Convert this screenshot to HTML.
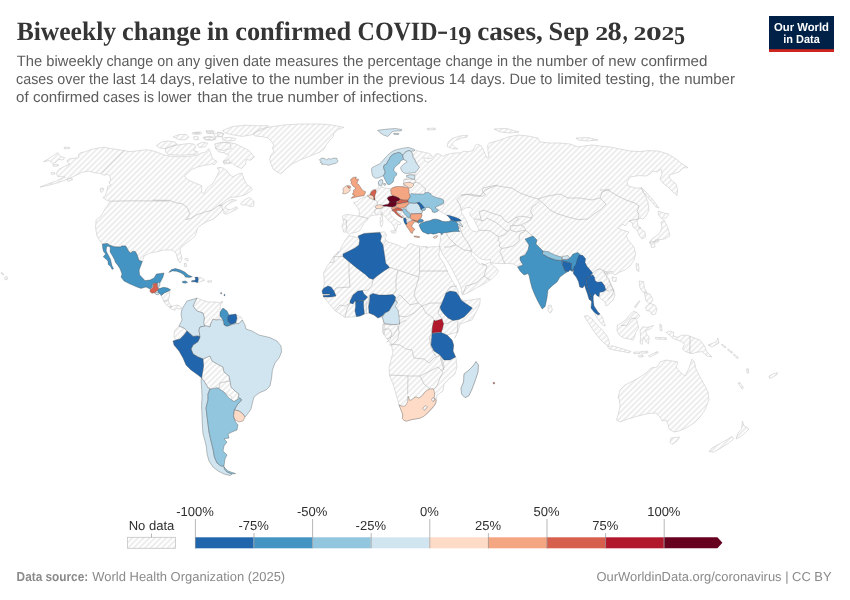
<!DOCTYPE html>
<html lang="en"><head><meta charset="utf-8"><title>Biweekly change in confirmed COVID-19 cases</title>
<style>
html,body{margin:0;padding:0;background:#fff;}
body{width:850px;height:600px;overflow:hidden;position:relative;font-family:"Liberation Sans",sans-serif;}
svg{position:absolute;left:0;top:0;}
text{font-family:"Liberation Sans",sans-serif;text-rendering:geometricPrecision;}
.ttl{font-family:"Liberation Serif",serif;font-weight:bold;font-size:26.5px;fill:#353535;}
.sub{font-size:15px;fill:#5c5c5c;}
.lg{font-size:13px;fill:#2f2f2f;}
.ft{font-size:13px;fill:#8a8a8a;}
.logo{font-size:11.6px;font-weight:bold;fill:#fff;}
</style></head><body>
<div id="chart" style="position:absolute;left:0;top:0;width:850px;height:600px;will-change:transform;">
<svg width="850" height="600" viewBox="0 0 850 600">
<defs>
<pattern id="hatch" patternUnits="userSpaceOnUse" width="4" height="4" patternTransform="translate(-1.2 0) rotate(-45 2 2)"><path d="M -1,2 l 6,0" stroke="#d0d0d0" stroke-width="0.78"/></pattern>
</defs>
<rect width="850" height="600" fill="#fff"/>
<text x="16.67" y="40.0" class="ttl" style="font-size:26.5px" textLength="99.38" lengthAdjust="spacingAndGlyphs">Biweekly</text>
<text x="122.10" y="40.0" class="ttl" style="font-size:26.5px" textLength="78.95" lengthAdjust="spacingAndGlyphs">change</text>
<text x="207.00" y="40.0" class="ttl" style="font-size:26.5px" textLength="21.90" lengthAdjust="spacingAndGlyphs">in</text>
<text x="235.20" y="40.0" class="ttl" style="font-size:26.5px" textLength="115.90" lengthAdjust="spacingAndGlyphs">confirmed</text>
<text x="357.60" y="40.0" class="ttl" style="font-size:26.5px" textLength="79.90" lengthAdjust="spacingAndGlyphs">COVID</text>
<text x="437.10" y="39.0" class="ttl" style="font-size:26.5px" textLength="11.25" lengthAdjust="spacingAndGlyphs">-</text>
<text x="448.50" y="40.0" class="ttl" style="font-size:19.7px" textLength="10.00" lengthAdjust="spacingAndGlyphs">1</text>
<text x="458.15" y="43.7" class="ttl" style="font-size:25.6px" textLength="13.15" lengthAdjust="spacingAndGlyphs">9</text>
<text x="477.15" y="40.0" class="ttl" style="font-size:26.5px" textLength="65.65" lengthAdjust="spacingAndGlyphs">cases,</text>
<text x="548.60" y="40.0" class="ttl" style="font-size:26.5px" textLength="40.90" lengthAdjust="spacingAndGlyphs">Sep</text>
<text x="595.20" y="40.0" class="ttl" style="font-size:19.7px" textLength="13.00" lengthAdjust="spacingAndGlyphs">2</text>
<text x="607.40" y="40.0" class="ttl" style="font-size:26.5px" textLength="14.20" lengthAdjust="spacingAndGlyphs">8</text>
<text x="622.80" y="40.0" class="ttl" style="font-size:26.5px" textLength="4.95" lengthAdjust="spacingAndGlyphs">,</text>
<text x="633.50" y="40.0" class="ttl" style="font-size:19.7px" textLength="12.85" lengthAdjust="spacingAndGlyphs">2</text>
<text x="645.95" y="40.0" class="ttl" style="font-size:19.7px" textLength="15.75" lengthAdjust="spacingAndGlyphs">0</text>
<text x="661.55" y="40.0" class="ttl" style="font-size:19.7px" textLength="12.80" lengthAdjust="spacingAndGlyphs">2</text>
<text x="673.90" y="43.7" class="ttl" style="font-size:25.6px" textLength="11.05" lengthAdjust="spacingAndGlyphs">5</text>
<text x="16.86" y="65.75" class="sub" textLength="86.04" lengthAdjust="spacingAndGlyphs">The biweekly</text>
<text x="106.4" y="65.75" class="sub" textLength="93.7" lengthAdjust="spacingAndGlyphs">change on any</text>
<text x="204.4" y="65.75" class="sub" textLength="134.2" lengthAdjust="spacingAndGlyphs">given date measures</text>
<text x="342.95" y="65.75" class="sub" textLength="98.25" lengthAdjust="spacingAndGlyphs">the percentage</text>
<text x="445.4" y="65.75" class="sub" textLength="86.9" lengthAdjust="spacingAndGlyphs">change in the</text>
<text x="536.6" y="65.75" class="sub" textLength="99.3" lengthAdjust="spacingAndGlyphs">number of new</text>
<text x="640.8" y="65.75" class="sub" textLength="66.7" lengthAdjust="spacingAndGlyphs">confirmed</text>
<text x="16.1" y="83.7" class="sub" textLength="92.8" lengthAdjust="spacingAndGlyphs">cases over the</text>
<text x="112.75" y="83.7" class="sub" textLength="82.5" lengthAdjust="spacingAndGlyphs">last 14 days,</text>
<text x="198.2" y="83.7" class="sub" textLength="92.15" lengthAdjust="spacingAndGlyphs">relative to the</text>
<text x="294.0" y="83.7" class="sub" textLength="89.7" lengthAdjust="spacingAndGlyphs">number in the</text>
<text x="388.4" y="83.7" class="sub" textLength="77.05" lengthAdjust="spacingAndGlyphs">previous 14</text>
<text x="470.8" y="83.7" class="sub" textLength="81.5" lengthAdjust="spacingAndGlyphs">days. Due to</text>
<text x="557.2" y="83.7" class="sub" textLength="97.55" lengthAdjust="spacingAndGlyphs">limited testing,</text>
<text x="659.15" y="83.7" class="sub" textLength="75.8" lengthAdjust="spacingAndGlyphs">the number</text>
<text x="16.1" y="101.6" class="sub" textLength="83.1" lengthAdjust="spacingAndGlyphs">of confirmed</text>
<text x="103.1" y="101.6" class="sub" textLength="88.35" lengthAdjust="spacingAndGlyphs">cases is lower</text>
<text x="197.55" y="101.6" class="sub" textLength="86.15" lengthAdjust="spacingAndGlyphs">than the true</text>
<text x="287.6" y="101.6" class="sub" textLength="140.15" lengthAdjust="spacingAndGlyphs">number of infections.</text>
<g>
<rect x="769" y="16" width="65" height="36" fill="#002147"/>
<rect x="769" y="49.2" width="65" height="2.8" fill="#ce261e"/>
<text x="801.5" y="30.6" text-anchor="middle" class="logo" textLength="55" lengthAdjust="spacingAndGlyphs">Our World</text>
<text x="801.5" y="42.6" text-anchor="middle" class="logo" textLength="36.5" lengthAdjust="spacingAndGlyphs">in Data</text>
</g>
<g id="map">
<path d="M40,187.06 47.65,184.12 55.88,181.18 60.59,178.82 65.29,177.06 57.65,176.47 56.47,172.94 58.82,169.41 64.12,166.47 70,164.12 67.65,162.35 67.06,160.59 70,158.82 74.71,158.24 78.82,157.65 78.24,154.71 80.59,152.71 85.29,151.76 91.18,149.41 98.24,148 104.12,147.29 110,148.47 117.06,149.41 124.12,150.59 130,151.76 130,151.53 137.06,150.94 145.29,149.76 151.18,150.35 157.06,152.12 164.12,155.06 171.18,156.24 179.41,156.82 188.82,156.24 195.88,155.65 200.59,153.29 205.29,152.12 208.82,148.59 210,151.53 211.18,154.47 212.35,158.59 217.06,161.53 214.71,164.47 211.18,163.88 207.65,165.06 205.29,165.06 198.24,166.82 191.18,169.76 184.71,175.65 185.29,177.41 188.82,180.35 195.88,183.29 201.76,185.65 201.6,192 203.6,194 207,188 212.35,183.88 214.71,180.35 217.06,175.65 219.41,170.35 217.06,168 220,167.4 223,168 227,171 230,175 233,177 238,174 242,173 244,179 247,185 250.59,186.76 252.35,189.71 249.41,192.06 244.71,195 237.65,196.76 230.59,197.35 225.88,200.29 221.18,203.82 218.82,205.59 223.53,203.82 228.24,200.88 231.76,199.35 236.47,200.29 232.35,201.71 228.82,203.82 225.29,206.41 226.47,209.12 230.59,209.71 236.47,206.76 237.88,208.53 232,211.59 226.12,214.41 223.53,213 224.47,211.12 222.94,210.29 218.82,214.41 213.53,219.12 207.06,221.47 201.18,225 197.65,227.94 196.47,232.06 195.29,235.59 191.76,239.12 187.06,242.65 182.35,246.18 180,249.12 180.59,253.24 181.18,255 182,259 180,263 178,260 176,253 172,250 164,250 156,252 150,253 144,256 142.35,261.47 138.82,260.29 138.24,258.24 137.06,254.71 135.29,251.47 132.94,251.18 130.59,252.94 128.82,251.47 127.06,248.24 125.59,245.88 121.47,245.88 120.59,247.06 114.12,246.76 109.41,245 107.65,243.53 102.35,244.12 100,241 97,236 95.6,228 96,220 101,216 105,209 108,205 110,201.18 106.47,200 102.94,197.65 105.29,195.29 107.06,190.59 107.65,186.47 111.18,184.71 108.82,182.94 110.59,180 110,176.47 107.65,174.12 104.12,175.29 100.59,173.53 95.88,172.94 88.82,171.18 81.76,172.35 77.06,174.71 70,178.24 64.12,180.59 57.06,182.94 48.82,185.29ZM161.18,295.59 164.71,292.65 170,290.29 169.41,296.18 168.24,300.88 170,304.41 171.18,306.76 174.12,305.59 177.65,305 180.59,306.76 181.76,307.94 180,309.12 176.47,308.53 174.71,310.29 171.76,309.12 168.82,306.76 165.88,304.41 163.53,300.88 162.94,299.12ZM253,134 260,129 270,127 284,125 300,124 320,124 332,125 344,127.4 338,129.4 334,133 333,137 329,141 326,145 324,149 320,152 310,156 300,160 292,164 286,169 282,173 280,173.4 277,172 273,169 271,164 269.6,159 271,155 274,152 272.4,148 274,145 271,141 268,138 262,136.6 255,136ZM156.47,145.65 161.18,142.12 167.65,140.94 175.29,142.12 177.06,144.47 171.18,146.82 165.29,148.59 159.41,148ZM165.29,148.82 171.18,146 179.41,144.71 188.82,143.53 194.12,144.12 195.88,146.82 193.53,150.35 198.24,152.12 195.88,154.24 188.82,154.71 181.76,155.29 174.71,155.06 167.65,154.24 165.53,151.53ZM172.94,136.82 179.41,134.47 186.47,134.47 188.82,137.41 185.29,139.76 179.41,139.76ZM193.53,136.82 198,136.59 198.47,139.53 194.12,139.88ZM192.35,132.71 199.18,132.35 199.41,133.76 192.82,134.12ZM202.94,137.41 210,136.24 214.71,138.59 212.35,140.35 205.29,139.76ZM206.47,131.53 212.35,130.94 213.53,133.29 207.65,133.29ZM197.06,144.47 202.94,142.12 207.65,143.29 205.29,146.82 199.41,147.41ZM214.71,143.88 222.94,142.12 230,143.29 231.18,148.59 222.94,150.35 215.88,148.59ZM213.53,134.47 219.41,132.12 224.12,133.88 220.59,136.82 215.88,136.82ZM222.94,160.94 228.82,159.76 230.59,163.29 224.12,164.12ZM215.06,147.94 219.18,143 227.41,142.18 235.65,143.82 242.24,147.12 248.82,150.41 254.59,157 250.47,160.29 246.35,159.47 245.53,164.41 241.41,168.53 235.65,166.06 232.35,162.76 227.41,162.76 223.29,161.94 225.77,158.65 229.06,155.35 224.12,152.88 219.18,152.06ZM222.47,130.65 232.35,126.53 245.53,125.21 255.41,125.71 268.59,125.71 265.29,129 257.06,131.47 252.12,134.76 242.24,136.41 232.35,134.76 225.77,133.12ZM222.47,138.06 229.06,137.24 235.65,138.39 234.82,140.53 227.41,141.02 222.8,140.04ZM217.53,132.29 223.29,133.45 222.47,137.24 217.86,136.08ZM206,130.65 214.24,130.98 213.91,133.12 206.82,133.12ZM204.35,137.24 215.88,136.91 215.55,139.71 205.18,139.71ZM194.47,132.29 201.06,131.96 201.39,133.94 194.8,134.11ZM240.59,203.82 244.71,199.71 249.41,197.35 254.12,201.47 253.53,206.18 250.59,206.76 247.06,205 242.35,205ZM43.53,161.76 47.65,159.41 53.53,155.29 57.65,152.71 60.59,156.47 64.71,157.65 62.94,160 58.24,159.41 55.88,162.35 52.35,163.53 49.41,160.59ZM64.12,147.29 69.41,147.06 69.53,148.47 64.35,148.71ZM52.94,164.71 58.24,164.47 58.24,166.12 53.18,166.12ZM51.18,172.71 54.71,172.47 54.94,174.12 51.41,174.35ZM67.06,179.41 71.76,177.88 72.59,179.76 67.88,181.41ZM100.35,188.47 103.18,188 103.65,190.59 101.29,192.47 100.24,191.18ZM197.88,277.35 201.76,277.94 204.71,280.29 201.18,281.47 198.24,282.29ZM207.65,280.88 211.53,280.65 211.76,282.06 207.88,282.29ZM184.12,263.47 186.12,263.24 186.59,266.53 184.71,266.76ZM184.71,258.76 188,258.53 188.24,260.65 186.82,260.88ZM221.18,301.59 222.59,301.35 222.71,302.76 221.29,302.88ZM197,298 202,300 208,302 216,302 221,303 220,308 223,311 221,315 219,319 216,320 213,319 211,323 210,327 207,326 205,326 203.6,323 204.4,318 203,313 197,311 193,306 195,302ZM179,326 184,328 187,331 184,335 180,339 176,340 174,337 174.4,331ZM203,359 210,356 212,361 219,365 223,367 224,372 229,376 230,381 224,382 220,383 219,388 214,387 210,389 207,386 204,381 201.6,378 202.4,373 203.6,366ZM220,383 224,382 230,381 231,387 235,391 239,394 238,398 236,401.6 231,401 232,397 227,394 221,391 219,388ZM236.4,315 241,317 242.4,320 239,323.6 236,323 237,318ZM380.59,232.06 372.94,232.65 367.06,233.24 361.76,235 358.82,237.94 354.12,236.76 348.82,235.59 345.29,240.29 341.76,246.18 340,250.88 336.47,255 339,251 334,256 330,262 326,268 323.6,273 324,279 324.4,284 322.4,290 323.6,297 327,301 331,306 335,310.6 340,314 345,317.4 351,317 356.4,316.6 360,316 364.4,314 369,313 374,315 378,318 382.4,317 384,323 385,329 384,335 383,324 382.4,332 387,339 391,344 393,352 391,360 389,368 389.6,376 393,384 396,394 399,405 402,412 403,419 406,421 412,419.6 420,418 427,414 432,409 435.6,404 436.4,400 437,395 443,391 444,384 449,379 455,374 457,367 456,358 455.6,357 453,351 453.6,345 452,340 447,335 458,332 460,324 472,320 479.71,305 480.29,298.53 472.06,299.71 465,300.88 460.29,299.12 459.12,296.76 458.53,294.41 457.94,290.29 454.41,284.41 450.29,277.35 446.76,270.29 443.82,263.24 439.71,257.35 438.88,254.41 440.06,248.18 439.35,245.82 436.76,246.76 432.06,246.76 425,247.94 427.35,246.47 420.29,246.47 415.59,245.29 410.88,243.53 407.35,245.29 406.18,248.24 402.65,247.65 397.94,245.29 393.24,243.53 389.12,242.35 386.18,240.59 385,237.65 386.76,235.29 384.41,231.76 380.29,232.35ZM476,361.6 478.4,365 478,372 475,381 472,389 469,395.6 465,397.6 461.6,394 461,388 463.6,382 464,374 469,370 473,366ZM348.82,234.41 346.47,232.06 343.53,232.06 342.94,229.12 341.76,226.18 343.53,222.65 342.94,219.12 342.35,216.18 346.47,214.41 351.76,215 358.82,216.18 359.41,211.47 357.65,207.35 355.29,205 353.53,202.65 357.65,201.47 359.41,199.12 363.53,197.35 368.24,196.18 370.59,195 370.06,193.24 370.88,191.47 372.65,189.71 375.59,189.35 377.94,188.53 378.76,186.76 378.29,181.47 380.29,180.29 382.06,179.71 382.65,182.06 381.82,185 382.06,187.35 384.41,187.94 387.94,188.53 390.88,188.53 396.18,186.76 402.06,187.35 403.82,185 403.82,183.24 403.53,180.59 405.29,178.82 407.06,179.41 406.47,176.47 406.47,175.29 410.59,174.47 414.71,174.94 416.47,173.53 414.53,172.65 416.18,170.88 419.12,167.35 416.76,163.24 415,159.71 413.24,155.59 412.06,152.06 414.41,149.71 418.82,151.18 424.71,152.35 429.41,153.53 431.76,155.29 432.35,157.65 430,158.82 426.47,158.24 423.53,157.65 424.71,160.59 427.65,162.35 430.59,160.59 432.94,159.41 434.12,156.47 436.47,153.53 438.82,154.12 441.76,155.29 442.94,156.47 445.88,154.71 450.59,153.53 455.29,152.94 460,152.94 464.12,151.18 468.24,151.76 472.94,150.59 475.29,145.29 477.65,144.12 481.18,145.88 482.94,149.06 484.94,153.53 487.06,158 488.94,157.06 488,151.18 487.65,145.29 489.41,142.94 494.12,141.76 500,140 508,137 518,135 528,136 538,138 540,142 550,143 560,143 570,144 578,147 584,146 592,145 600,146 610,147 620,149 630,151 640,151.6 648,150.6 658,151 668,154 676,159 681,163 688,167.6 683,168 679,172 674,173.6 669,175 670,179 676,184 677.6,190 677,195.6 673,192 668,187 663,183 660,179 662,174 661,169 657,172 653,171 650,174 646,176 639,175.6 630,177 627,182 628,186 636,188 641,188 645,195 648,202 649,210 646,216 643,219 640,218 637,221 638,225 640,228 645,232 645.6,237 642,239 639,235 637,230 633,227 632.4,223 629,221 625,226 623,224 618,228 622,230 629,232 626,236 629,241 634,247 635.6,254 634,260 630,266 625,270 619,272.4 615,275 612,273 608,274 606,277 610,282 613,288 615,295 613,300 609,304 606,306 605,302 601,299 599,297 595,285 585,270 572,262 545,270 525,264 517.65,266.47 513.42,263.93 507.77,263.37 502.12,263.65 496.47,263.37 490.83,262.94 490.12,259.41 486.59,260.12 482.35,259.41 477.41,256.59 473.18,252.35 470.35,250.94 471.77,255.18 475.3,258.71 478.12,262.94 481.65,265.06 485.18,264.36 488.71,262.94 489.7,262.24 493.65,265.77 498.59,270.71 496.47,274.24 492.24,278.47 487.3,282 482.35,284.83 476.71,287.65 471.06,291.18 465.41,294 462.06,295 461.47,289.12 459.12,283.24 455.59,276.18 452.06,269.12 446.76,260.29 442.65,254.41 440.06,248.18 439.35,245.82 440.29,240.88 440.88,235 440.59,232.06 434.71,229.71 422.94,223.82 420.59,220.88 415.88,220.88 408.82,220.29 405.29,221.47 403.29,218.18 401.76,217.94 400.82,216.76 397.65,215 394.71,212.65 392.94,211.12 391.76,209.94 392,210.29 389.41,212.06 390.59,215 394.12,218.53 398.24,221.47 401.18,223.24 400,225 397.65,224.41 397.06,227.94 395.29,230.29 394.35,227.35 392.35,223.82 388.82,220.88 385.88,217.35 382.94,214.41 379.41,214.41 377.65,215 375.29,215 370.59,215.82 368.24,218.53 366.47,220.88 363.53,223.82 361.76,227.35 359.41,230.88 355.29,232.65 351.18,233.24ZM594.82,313.35 599.76,314.06 602.59,317.59 604,322.53 605.41,326.06 603.29,325.35 600.47,322.53 597.65,319 595.53,315.47ZM380.24,217.35 382.35,216.53 382.94,222.65 381.76,226.76 380.24,225.59ZM380.94,212.29 382.12,211.82 382.35,215.82 381.18,215.82ZM390.59,231.12 396.47,230.29 395.29,233.24 391.76,232.65ZM447.06,146.47 448.24,141.76 452.94,138.24 460,135.88 467.65,135.29 467.06,137.06 461.18,138.24 455.29,140.59 451.76,144.12 455.29,147.65 457.65,148.82 452.94,148.82ZM494,129 506,128.4 519,132 510,133 500,132ZM576,138 588,137.6 598,140 588,141 578,140ZM427,128.5 435,128 435.5,129.6 427.5,130ZM641,187 646,192 653,200 659,208 656,207 650,200 644,193ZM658,211 664,213 669,214 666,218 662,219 659,216ZM664,220 668,228 670,236 664,239 658,240 652,243 649,243 653,238 659,234 662,228 661,222ZM650,241 654.4,241.6 655,247 651.6,247.6ZM655,240 659,239.6 658.4,242 655.6,242.4ZM636,263.6 638.6,264 639,271.6 636.6,270ZM612,277 616.4,277.6 616,281.6 612.4,281ZM639,281 643.6,281.6 644.4,288 647,293 643,292 640,288ZM644.4,293 650,294 653,300 650,304 646,301ZM645.65,307 649.88,303.47 654.82,304.88 656.94,309.12 655.53,314.06 652,314.76 649.88,311.24 646.35,310.53ZM634.35,307 639.29,300.65 640,301.35 635.34,307.71ZM548,305.6 551,305 552.4,310 550.4,313.2 548,311ZM584.24,316.18 587.76,315.47 592,319 596.94,324.65 602.59,330.29 607.53,336.65 609.65,343 608.24,345.82 604.71,343.71 599.76,338.76 594.12,331.71 589.18,323.94ZM607.53,346.53 612.47,345.82 619.53,347.94 626.59,350.06 630.82,351.47 629.41,352.88 622.35,351.47 615.29,350.34 608.94,348.65ZM633.65,352.18 639.29,351.89 639.58,353.45 633.93,353.73ZM640.71,351.47 647.77,351.19 648.05,352.88 640.99,353.16ZM638.59,355.28 642.82,355 643.11,356.84 638.87,357.12ZM648.47,355.71 657.65,351.47 658.35,352.6 649.88,357.12ZM617.41,325.35 620.94,323.24 626.59,319 629.41,314.76 633.65,311.24 637.18,312.65 640,316.18 636.47,319.71 637.88,323.94 638.59,328.18 635.76,332.41 634.35,337.35 632.94,340.18 628.71,338.76 623.76,338.06 619.53,335.24 616.99,331ZM640,330.29 642.82,326.76 647.77,327.47 653.41,325.35 650.59,328.88 645.65,330.29 646.35,333.82 649.18,337.35 648.47,343.71 645.65,341.59 644.24,337.35 642.82,340.18 642.12,344.41 640,343 640.71,336.65ZM659.77,323.94 661.6,325.35 661.88,331 660.19,330.29ZM655.53,337.35 666.12,337.78 666.4,339.47 655.81,339.05ZM666.12,332.41 670.35,331 673.88,332.41 673.18,335.94 677.41,337.35 681.65,335.24 687.29,335.24 692.94,337.35 700,340.18 704,345 707,352 712,357 707,356 702,351.6 696,352.4 692.94,353.59 689.41,352.88 685.18,351.47 682.35,348.65 684.47,344.41 681.65,341.59 677.41,340.18 673.88,338.76 671.06,336.65ZM708,345 716,342 718,338 719,343 712,347ZM722,344 726,347 725.2,348 721.6,345.2ZM728,349 733,352.4 732,353.4 727.6,350ZM734,354 738.4,357.6 737.6,358.6 733.6,355.2ZM746.6,369 748.2,368.6 748.6,373 747.2,373.2ZM738,383 740,382.6 743.6,388 742,389.2ZM618,398 620,390 625,385 633,381 640,377 646,373 651,368 657,367 660,362 666,360 672,361 678,362 676,367 680,372 685,376 689,368 692,359 694.4,362 696,369 700,377 704,384 708,392 709,400 708,402 705,410 700,417 694,423 686,428 679,431 674,432 669,429 668,424 666,420 662,421 660,417 656,413 648,413.6 638,416 628,419 620,422 616.4,420 618.4,414 620,406 619,398ZM671,438 679.6,437 677,441 672,444.4 670,442.4ZM742.4,421 744,426 749,429 745,433 740,437 736,439 738,433 741.6,429ZM732,436.4 733.6,439 728,443.6 721,448 714,452 709,451.6 712,448 720,443.6 728,439ZM4.7,277 7,276.5 7.6,279 5.2,280ZM1,272.5 3,273.3 4,275 2,274.4ZM769,376 773,374 777.5,372.5 777,374.5 772,377.5 769.5,378.3Z" fill="url(#hatch)" stroke="#c6c6c6" stroke-width="0.55" stroke-linejoin="round"/>
<path d="M124.12,150.59 101.76,172.94M110,201.18 130,200.82 169,201M152.94,200.06 160,200.29 169.41,200.29 175.29,202.65 182.35,203.82 187.06,207.35 188.82,210.88 189.41,214.41 187.06,218.53 185.88,219.71 190.59,218.53 196.47,215 204.71,212.06 211.76,210.29 215.29,207.94 218.82,205.59 221.76,205.59 222.35,209.12 222.94,210.29M161.18,295.59 164.71,292.65 170,290.29M163.53,300.88 168.24,300.88M168.82,306.76 171.18,307.35 171.53,305.59M343,256.6 334,256.6 334,262 330,262.6M343,256.6 349,261 349,273 350,287 336,288 334,291M373,279.4 372,285 368,290 362.4,290.6M389.6,267.4 398,270 396,279 396,291 393,294.6M398,270 419,277 419.6,271 419.6,247M419.6,271 448,271M419,277 416,287 414,295 418,303 422,306 430,303 438,303 442,303M395.6,300 400,295 404,299 410,305 418,303M399,316 406,317 414,313 422,306M422,306 426,313 432,317 435,321M440,307 438,313 442,319M443.6,324 448,323 453,320.6M446,293 450,287 457,286M335,310.6 340,305 345,306 350,303M345,317.4 347,309 350,303M366,301 366.4,314M368.6,307 368,301 370,295M383,324 392,325 400,323 406,320M387,339 393,336 398,328 400,323M391,344 400,345 406,349 412,350 414,358 424,359 429,363M389.6,375 410,376 420,376 428,372 434,369 438,367M408,376 407.6,394.4M420,376 424,384 430,389M429,363 434,358 440,355M438,367 443,372 440,378 437,386 433.6,389.6M440,355 442,364 444,370M433.21,322.98 431.38,333.06 429.55,337.64 430.46,344.97 433.21,352.29 435.96,356.32M431.38,333.06 434.49,333.97M430.1,339.1 433.76,339.1M457.94,321.15 457.21,333.06 454.65,338M440.54,353.21 442.37,359.62 444.2,366.95 442.37,370.62M383.74,329.39 389.24,328.84 391.99,333.06 390.15,339.47 386.49,342.22M397.48,325.73 399.31,332.14 397.48,339.47 391.99,344.97 389.24,344.97M386.18,240.59 384.41,242.94 382.65,245.29M413.38,183.75 416,182.25 419.75,183.38 422.75,186.75 425.75,189 425,190.88 424.63,192.75 423.5,194.25M402.88,180.38 404.75,179.25 407.75,179.63 410.38,178.88 414.88,179.63 416,181.88 413.75,183M376.75,208.6 375.25,209.5 374.5,211.75 375.63,214M374.35,199.9 377.13,201.25 377.5,203.5 376.75,205.38M395.88,211 401.5,214.75 403,215.88 402.63,217.38M403,215.88 403.75,218.13M405.25,217.75 407.13,217M406.38,219.63 408.63,218.88 410.88,218.88M406.15,221.5 408.25,221.88M358.82,216.18 364.12,217.35 368.24,218.53M343.53,219.35 346.82,220.29 346.12,225 347.06,228.76 345.65,231.82M538,199 546,196.4 560,194 568,198 580,198 592,200 600,198 606,204 600,210 594,214 588,219 578,219.6 568,217 558,214 550,210 544,204 538,199M600,198 602,192 610,189M600,190 608,190 616,195 626,200 635,203 639,206 637,212 639,214 638,219M472,251 468,243 463,236 460,228 459,222M472,251 464,250 456,245 449,247 444,247M460,228 452,230 446,233 449,238 456,245M463,294 466,286 476,283 484,276 490,280M484,276 487,266 481,263M608,274 603.6,272.4M629,221 633,220 638,219M638,228 641,227.6M461,195 470,194 480,196 485,190 496,185.6 504,187 512,188 520,193 528,196 538,199M539.71,200.88 536.18,204.41 532.65,206.76 530.29,211.47 532.65,215 531.47,217.94 525.59,216.76 520.29,216.18 516.18,217.35 512.65,219.71 507.94,222.65 504.41,220.29 501.47,216.18 496.18,214.41 490.29,212.65 484.41,210.29 479.12,211.47 480.29,216.18 481.47,220.88 478.53,219.12 474.41,219.12M461.47,210.29 459.71,204.41 456.76,199.71 460.88,195.59 467.94,194.41 475,196.18 482.65,196.18 485.59,194.41 482.06,191.47 483.24,187.94 491.47,186.18 497.35,185M481.47,220.88 484.41,220.29 486.76,217.94 491.47,220.29 496.18,222.65 500.88,226.18 504.41,229.71 507.94,231.47 510.29,229.71 510.29,225.59 513.82,225.59 512.65,223.82 515,221.47 518.53,219.12 516.18,217.35M479.12,230.29 484.41,230.29 490.29,230.88 495,234.41 498.53,236.76 502.06,235.59 505.59,234.41 507.94,231.47M531.47,217.94 530.29,220.29 525.59,222.65 520.88,225 516.18,225.59 513.82,225.59M520.88,225 524.41,227.35 525.59,230.29 520.88,230.88 516.18,232.06 512.65,230.88 510.29,229.71M525.59,230.29 523.82,232.06 520.29,233.24 519.12,236.76 519.12,240.29 516.18,243.82 512.65,246.18 507.94,247.35 502.06,248.53 499.12,246.18 500.29,242.65 497.94,240.29 498.53,236.76M502.06,248.53 499.71,252.06 501.47,255 503.24,260.29 505,263.59M525.59,230.29 527.94,232.06 532.65,236.18M592.65,272.94 596.18,270 599.71,268.82 603.24,270.59 605.59,274.71 609.12,279.41 610.29,284.12 607.94,286.47 605.82,290M603.24,270.59 607.94,272.35 612.65,271.41M610.29,284.12 612.65,288.82 613.82,291.18 611.47,295.88 607.94,299.41M605.82,290 609.12,291.18 611.47,288.82 613.82,291.18M690.12,336.65 689.84,353.59M620.94,325.35 626.59,325.35 629.41,321.12 631.53,318.29 636.47,318.29" fill="none" stroke="#b0b0b0" stroke-width="0.55" stroke-linejoin="round"/>
<path d="M421.25,213.5 422,215 421.25,217.63 420.13,219.13 422.75,219.65 423.5,221 423.13,222.5 426.13,221.38 429.88,220.63 433.25,219.35 436.25,219.13 439.63,220.1 442.63,221.38 446,221.75 449,221.38 450.88,220.4 449.75,218 448.25,216.5 446.75,215 444.5,213.88 442.25,212.75 440,211.25 438.88,210.5 438.5,210.13 437.75,211.25 434.75,212.38 432.5,212 431.75,209.38 430.25,208.25 428,207.13 426.13,207.5 424.63,207.88 425,210.13 422.38,210.5 422,212.75ZM435.5,207.5 438.5,206.38 441.5,205.25 443.75,203.38 444.13,204.5 443,206.75 441.5,208.25 439.63,209.75 438.5,209 436.25,208.4ZM461.47,210.29 465.59,207.94 470.29,207.35 472.65,209.71 469.71,212.65 470.29,215.59 473.82,219.12 475.59,222.65 477.35,226.18 479.12,230.29 476.76,232.06 472.65,230.88 469.71,228.53 467.94,224.41 466.18,220.29 463.82,216.18 461.47,212.65Z" fill="#fff" stroke="#c6c6c6" stroke-width="0.55"/>
<path d="M102.35,244.12 107.65,243.53 109.41,245 114.12,246.76 120.59,247.06 121.47,245.88 125.59,245.88 127.06,248.24 128.82,251.47 130.59,252.94 132.94,251.18 135.29,251.47 137.06,254.71 138.24,258.24 138.82,260.29 142.35,261.47 141.18,264.71 140,267.65 139.12,270.59 139.71,275 141.6,277 145,280.6 150,280 154,278 156.4,274 164,273 163,277 161,281 159.6,283.6 158,283 157.4,283.6 154,283 152.4,284 152.4,287 150,289 146,287 141,288.4 137,287 130,284 124,281 121,277 122,274 120,268.82 118.24,265.88 115.29,262.35 114.71,260 112.65,256.18 110,251.76 110.29,247.94 109.41,246.47 107.35,246.18 106.47,247.65 106.18,250.59 107.06,252.65 108.82,255.88 110.59,259.41 111.18,262.35 112.06,265.88 113.53,268.53 112.06,269.41 110.59,266.47 108.24,264.41 107.94,260.88 105.88,259.12 103.24,256.76 105.59,254.12 103.53,251.47 102.65,247.65Z" fill="#4393c3" fill-rule="evenodd" stroke="#3a3a3a" stroke-width="0.32" stroke-linejoin="round"/>
<path d="M152.94,283.82 156.47,283.24 157.65,284.41 157.41,287.35 158.82,288.53 157.65,290.29 154.71,292.65 151.76,293.24 150,291.47 150,289.71 152.35,287.94 153.53,286.18Z" fill="#d6604d" fill-rule="evenodd" stroke="#3a3a3a" stroke-width="0.32" stroke-linejoin="round"/>
<path d="M157.65,282.65 159.41,282.06 160,284.41 158.82,287.35 157.65,287.35 157.65,284.41Z" fill="#d1e5f0" fill-rule="evenodd" stroke="#3a3a3a" stroke-width="0.32" stroke-linejoin="round"/>
<path d="M157.65,290.29 159.41,288.53 163.53,287.35 167.65,287.94 170.59,289.71 167.65,291.47 164.71,292.65 162.35,294.41 161.18,295.59 160,293.82 158.24,292.65Z" fill="#4393c3" fill-rule="evenodd" stroke="#3a3a3a" stroke-width="0.32" stroke-linejoin="round"/>
<path d="M154.71,292.88 157.65,292.06 159.41,293.82 158.24,294.76 155.88,294.41Z" fill="#d1e5f0" fill-rule="evenodd" stroke="#3a3a3a" stroke-width="0.32" stroke-linejoin="round"/>
<path d="M168.82,272.41 171.18,269.71 175.29,268.53 180,269.71 184.71,272.06 188.24,275 192.35,276.76 189.41,277.59 185.29,277.12 184.12,275 180.59,272.65 176.47,271.24 172.35,270.88ZM182.35,281.47 185.29,280.88 187.65,282.29 185.29,283.24 182.59,282.65Z" fill="#4393c3" fill-rule="evenodd" stroke="#3a3a3a" stroke-width="0.32" stroke-linejoin="round"/>
<path d="M194.71,277.35 197.65,277.12 198.24,279.12 197.65,282.65 194.71,281.82 191.53,281.82 191.76,280.65 195.29,280.29 195.53,278.53Z" fill="#2166ac" fill-rule="evenodd" stroke="#3a3a3a" stroke-width="0.32" stroke-linejoin="round"/>
<path d="M220.71,292.65 221.65,292.65 221.65,293.82 220.71,293.82ZM224,294.41 224.94,294.41 224.94,295.71 224,295.71Z" fill="#4393c3" fill-rule="evenodd" stroke="#3a3a3a" stroke-width="0.32" stroke-linejoin="round"/>
<path d="M319.41,160.12 321.06,158.24 324.12,158.24 326.24,159.88 328.82,158.47 330.71,159.18 333.06,158.24 336.82,158.24 337.29,160.12 338.24,161.29 336.35,162.94 333.53,163.88 330.71,164.59 328.35,165.29 325.53,164.35 321.76,164.35 322.24,163.18 320.12,162.47 321.29,161.29Z" fill="#d1e5f0" fill-rule="evenodd" stroke="#3a3a3a" stroke-width="0.32" stroke-linejoin="round"/>
<path d="M182,309 187,301 194,299 197,298 195,302 193,306 197,311 203,313 204.4,318 203.6,323 205,326 200,327 199,330 200,337 198,336 193,336.4 187,331 184,328 179,326 182,320 181,314Z" fill="#d1e5f0" fill-rule="evenodd" stroke="#3a3a3a" stroke-width="0.32" stroke-linejoin="round"/>
<path d="M223,308 227,311 229,315 227.6,318 228.4,322 231,325 227,326.4 224,325 223,320 220,316 220,312Z" fill="#4393c3" fill-rule="evenodd" stroke="#3a3a3a" stroke-width="0.32" stroke-linejoin="round"/>
<path d="M229,315 236,314 237,318 235.6,323 231,324.4 228.4,322 227.6,318Z" fill="#2166ac" fill-rule="evenodd" stroke="#3a3a3a" stroke-width="0.32" stroke-linejoin="round"/>
<path d="M200,327 205,326 207,326 210,327 211,323 213,319 216,320 219,319.6 223,320 224,325 227,326.4 231,325 235.6,323.6 239,323.6 242.4,320 245,325 246,329 252,331 259,335 270,337.6 277,341 281,346 281.6,352 279,358 275,363 272.4,370 271.6,378 270,386 266,390 259,393 254,397 252.4,403 251,409 249,412 245,417 243,414 239,411 234.4,410 237,405 241.6,400 240,398 238,398 239,394 235,391 231,387 230,381 229,376 224,372 223,367 219,365 212,361 210,356 203,359 198,357 193,354 191,349 193,345 198,341.6 200,337 199,330Z" fill="#d1e5f0" fill-rule="evenodd" stroke="#3a3a3a" stroke-width="0.32" stroke-linejoin="round"/>
<path d="M176,340 180,339 184,335 187,331 193,336.4 198,336 200,337 198,341.6 193,345 191,349 193,354 198,357 203,359 203.6,366 202.4,373 201.6,378 198,375 191,370 186,365 183,358 179,351 174,345 173,341Z" fill="#2166ac" fill-rule="evenodd" stroke="#3a3a3a" stroke-width="0.32" stroke-linejoin="round"/>
<path d="M201.6,378 204,381 207,386 208,388 210,389 208,394 208,400 206,408 207,416 208,424 209,432 211,441 213,449 214.4,457 217,463 221,466 224,466 224.4,469 227,472 232,474 230,475.6 224,474 218,471 213,467 209,461 207,454 206.4,447 205,441 203,434 202.4,426 202,416 201.6,406 202,396 201.6,388 201,380Z" fill="#d1e5f0" fill-rule="evenodd" stroke="#3a3a3a" stroke-width="0.32" stroke-linejoin="round"/>
<path d="M210,389 218,388 224,392 229,398 234,401.6 240,398 241.6,400 237,405 234.4,410 233.6,416 235,421 238,425 237,430 232,432 228,434 229,438 224,439 227,442 224,446 223,451 227,455 225,459 224,466 221,466 217,463 214.4,457 213,449 211,441 209,432 208,424 207,416 206,408 208,400 208,394ZM224,467 228,471 235.6,473.6 232,474 227,472 224.4,469Z" fill="#92c5de" fill-rule="evenodd" stroke="#3a3a3a" stroke-width="0.32" stroke-linejoin="round"/>
<path d="M234.4,410 239,411 243,414 245,417 243,421 239,422 235,420 233.6,416Z" fill="#fddbc7" fill-rule="evenodd" stroke="#3a3a3a" stroke-width="0.32" stroke-linejoin="round"/>
<path d="M358,236 364,233.4 372,233 380,232.6 381.6,236 380.4,241 383,245 384,252 385,258 385.6,263 389.6,267.4 384,271 377,276 373,279.4 369,278 366,275 356,267.4 347,260 343,256.6 343,254 349,251 355,248 359,245 359.6,240Z" fill="#2166ac" fill-rule="evenodd" stroke="#3a3a3a" stroke-width="0.32" stroke-linejoin="round"/>
<path d="M322,291 324,288 328,286 331,287 334,291 336,296 331,297 327,297 323.6,297 323.2,295.4 330,295 330,294 322.8,294Z" fill="#2166ac" fill-rule="evenodd" stroke="#3a3a3a" stroke-width="0.32" stroke-linejoin="round"/>
<path d="M350,301 353,295 358,291 362.4,290.6 364,294 367.6,297 365,300 363.6,300.6 355.6,301 355,301 353,304 350,303Z" fill="#2166ac" fill-rule="evenodd" stroke="#3a3a3a" stroke-width="0.32" stroke-linejoin="round"/>
<path d="M355.6,301 363.6,300.6 363.6,306 364.4,314 360,316 356.4,316.6 355,311 355.6,306Z" fill="#2166ac" fill-rule="evenodd" stroke="#3a3a3a" stroke-width="0.32" stroke-linejoin="round"/>
<path d="M370,295 373,293.4 379,295 387,295 393,294.6 395.6,297 395,301 392,306 389,311 385,313 382,316 378,318 374,315 369,313 368.6,307 369.6,301Z" fill="#2166ac" fill-rule="evenodd" stroke="#3a3a3a" stroke-width="0.32" stroke-linejoin="round"/>
<path d="M395.6,300 397.6,303 395,306 398,310 399,316 399.6,324 394,324.6 387,324 384,323 382.4,317 385,313 389,311 392,306 395,301Z" fill="#d1e5f0" fill-rule="evenodd" stroke="#3a3a3a" stroke-width="0.32" stroke-linejoin="round"/>
<path d="M446,293 450,291 456,292 459,296 461,300 465,303 472.4,308 469,312 464,317 459,319.4 453,320.6 448,318 444,314 441,310 440,307 442,303 444,298Z" fill="#2166ac" fill-rule="evenodd" stroke="#3a3a3a" stroke-width="0.32" stroke-linejoin="round"/>
<path d="M435,321 442,319 443.6,324 442.4,329 441,333 441,332 432,333 432.4,327 434,320Z" fill="#b2182b" fill-rule="evenodd" stroke="#3a3a3a" stroke-width="0.32" stroke-linejoin="round"/>
<path d="M432,333.6 441,332.4 447,335 452,340 453.6,345 453,351 455.6,357 450,360 444,360 440,355 434,351 431,345 431.6,339Z" fill="#2166ac" fill-rule="evenodd" stroke="#3a3a3a" stroke-width="0.32" stroke-linejoin="round"/>
<path d="M476,361.6 478.4,365 478,372 475,381 472,389 469,395.6 465,397.6 461.6,394 461,388 463.6,382 464,374 469,370 473,366Z" fill="#d1e5f0" fill-rule="evenodd" stroke="#3a3a3a" stroke-width="0.32" stroke-linejoin="round"/>
<path d="M399,404.75 401.25,405.88 404.25,406.25 406.13,404.75 407.63,401.75 408,396.13 409.65,400.25 411.75,399.88 414,397.63 416.25,396.88 418.5,398 420.75,396.88 423,394.63 424.5,392.38 426.75,390.5 429.75,389 433.13,388.63 434.25,391.25 434.63,395 434.25,397.63 436.13,400.25 435.75,402.88 434.25,405.5 432,408.13 429.38,410.75 426.75,413.75 423.75,416.38 420,418.25 415.5,419 411,419.75 406.5,421.25 403.88,420.5 402.38,418.25 402.75,414.5 401.25,410.75 400.13,407.75ZM422.63,408.13 426,405.5 427.5,407 424.5,410.38ZM432,398.38 433.5,397.63 434.63,399.13 434.25,401 432.75,401.38 431.63,399.88Z" fill="#fddbc7" fill-rule="evenodd" stroke="#3a3a3a" stroke-width="0.32" stroke-linejoin="round"/>
<path d="M493.2,382.4 494.6,382.4 494.6,383.8 493.2,383.8Z" fill="#d6604d" fill-rule="evenodd" stroke="#3a3a3a" stroke-width="0.32" stroke-linejoin="round"/>
<path d="M371.38,168.88 372.5,167.38 375.5,165.88 379.25,164 381.88,161.75 383.75,159.5 386,156.88 388.25,154.63 390.88,152.38 393.88,150.5 397.25,149.38 401,148.63 404.75,147.88 408.5,147.5 413.38,149 414.88,150.13 413.75,151.25 412.63,150.5 411.13,151.63 410,150.5 407.38,151.1 405.5,152.15 404,153.5 402.5,155 401,153.35 398.38,152.38 396.5,153.13 393.88,153.88 391.63,155.38 390.13,157.25 389,159.5 387.5,161.75 386.75,164 384.13,165.13 383.6,167.38 384.35,170 385.1,171.5 384.65,173.75 383.38,175.63 381.13,176.75 378.5,177.88 375.5,178.25 373.25,176.75 372.13,174.5 371.75,171.5ZM377.65,130.29 387.06,129.12 395.29,128.53 401.76,129.47 401.18,130.88 394.12,131.12 391.76,132.06 390,134.41 387.65,136.53 383.53,135 380,132.65ZM393.53,133.24 398.82,133.47 398.59,134.53 394.12,134.41Z" fill="#d1e5f0" fill-rule="evenodd" stroke="#3a3a3a" stroke-width="0.32" stroke-linejoin="round"/>
<path d="M398.38,152.38 401,153.35 402.5,155 403.25,157.63 403.63,159.5 401.75,160.25 400.25,161.38 399.88,162.88 398,164.38 395.75,166.25 394.25,168.13 393.88,170.38 395.38,172.25 396.88,173.38 396.5,175.25 394.63,176.75 393.88,179 393.13,182 391.25,183.5 389.38,184.63 387.5,184.25 386.38,182.38 385.25,180.13 384.13,177.88 383.38,175.63 384.65,173.75 385.1,171.5 384.35,170 383.6,167.38 384.13,165.13 386.75,164 387.5,161.75 389,159.5 390.13,157.25 391.63,155.38 393.88,153.88 396.5,153.13Z" fill="#92c5de" fill-rule="evenodd" stroke="#3a3a3a" stroke-width="0.32" stroke-linejoin="round"/>
<path d="M407,151.25 409.25,150.5 411.13,151.63 412.63,154.25 413,157.25 414.88,159.88 416,162.5 417.5,164.75 419.38,167.38 417.88,169.63 416.38,171.5 414.5,172.63 411.13,173 407.75,173.38 404.75,173.38 402.5,171.88 401,169.63 400.63,167.38 402.13,165.5 404.75,163.25 407,162.13 406.25,160.63 404,159.88 403.25,158 402.88,155.75 404,153.88 405.13,152.38ZM406.25,175.88 410,174.75 414.88,175.13 414.65,177.38 414.88,179.25 413,179.25 410.38,178.5 407.75,177.38ZM378.5,181.88 380,180 382.25,179.63 383,181.88 381.88,184.5 380.75,186 379.25,185.25 378.35,183.38ZM383.38,183.65 385.25,183.35 385.85,184.85 384.13,185.38Z" fill="#d1e5f0" fill-rule="evenodd" stroke="#3a3a3a" stroke-width="0.32" stroke-linejoin="round"/>
<path d="M403.25,183.38 405.5,182.63 408.13,182.25 411.13,182.63 413.38,183.75 413.6,185.63 412.25,186.75 411.13,187.88 408.88,187.88 407.38,187.13 406.25,185.63 404,184.88Z" fill="#fddbc7" fill-rule="evenodd" stroke="#3a3a3a" stroke-width="0.32" stroke-linejoin="round"/>
<path d="M351.13,178.88 353,177.38 356.38,177 355.63,178.88 358.63,179.25 357.5,181.88 356.75,183.38 358.63,184.5 360.13,186.75 361.63,189 363.5,190.88 365.6,191.63 365,193.88 363.88,195.75 360.5,196.13 356.75,196.88 353.75,197.63 351.13,198.38 352.25,196.88 354.88,195.38 352.63,194.63 352.63,193.5 353.75,192 353.38,190.13 355.63,189 355.25,187.5 353.38,186.38 352.25,184.88 351.13,183.75 351.35,181.5 350.38,180.75ZM347.38,186 348.88,185.4 350.6,186.38 350.75,187.5 349.63,188.25 348.13,187.88Z" fill="#f4a582" fill-rule="evenodd" stroke="#3a3a3a" stroke-width="0.32" stroke-linejoin="round"/>
<path d="M343.25,188.25 344.75,186.75 347.38,185.4 347.38,186 348.13,187.88 349.63,188.4 350.38,189.38 349.63,191.25 347.75,192.75 344.75,193.88 342.5,193.5 343.63,191.25 342.88,189.75Z" fill="#fddbc7" fill-rule="evenodd" stroke="#3a3a3a" stroke-width="0.32" stroke-linejoin="round"/>
<path d="M370.25,194.25 371.38,191.63 373.25,190.13 375.88,189.75 376.25,192 375.13,194.63 374.75,197.25 374.6,199.5 373.85,199.13 373.63,196.88 372.13,195.38 370.25,195Z" fill="#d6604d" fill-rule="evenodd" stroke="#3a3a3a" stroke-width="0.32" stroke-linejoin="round"/>
<path d="M367.25,195.38 370.25,195 372.13,195.6 373.63,196.88 374,198.75 372.88,199.5 370.63,198.38 368.75,197.25Z" fill="#fddbc7" fill-rule="evenodd" stroke="#3a3a3a" stroke-width="0.32" stroke-linejoin="round"/>
<path d="M373.85,198.53 374.75,198.53 374.83,199.88 373.93,199.88Z" fill="#d6604d" fill-rule="evenodd" stroke="#3a3a3a" stroke-width="0.32" stroke-linejoin="round"/>
<path d="M390.63,189.7 392.5,187.75 395.28,186.77 399.48,186.4 403.23,186.77 406.23,187.15 408.1,187.9 409.23,189.77 408.85,192.4 409.6,194.65 410.35,196.53 409.23,198.4 407.88,200.13 403.75,200.13 400.38,199.38 398.88,197.88 395.5,196.38 392.5,195.63 391,193.38Z" fill="#f4a582" fill-rule="evenodd" stroke="#3a3a3a" stroke-width="0.32" stroke-linejoin="round"/>
<path d="M387.25,197.88 389.13,196.38 392.5,195.85 395.5,196.6 398.88,198.1 400.23,199.6 398.88,200.65 396.4,201.48 394.38,201.93 391.75,202.3 389.65,201.7 388,199.75ZM382.38,205.38 385,204.63 388,204.25 389.2,202.9 389.65,201.7 391.75,202.3 394.38,201.93 396.4,201.48 396.85,202.9 396.4,204.63 395.13,206.13 392.5,206.88 389.5,206.65 386.5,206.13 383.88,206.35Z" fill="#67001f" fill-rule="evenodd" stroke="#3a3a3a" stroke-width="0.32" stroke-linejoin="round"/>
<path d="M397,202 398.88,200.65 400.38,199.6 403.75,200.28 407.88,200.28 408.25,201.63 406,202.38 403,202.75 400,203.65 397.75,203.88 396.85,202.9Z" fill="#d6604d" fill-rule="evenodd" stroke="#3a3a3a" stroke-width="0.32" stroke-linejoin="round"/>
<path d="M374.88,206.88 376.75,205.38 379.75,204.63 382.38,205.38 383.5,206.65 382,208 379.38,208.75 376.75,208.6Z" fill="#fddbc7" fill-rule="evenodd" stroke="#3a3a3a" stroke-width="0.32" stroke-linejoin="round"/>
<path d="M396.4,204.63 397.9,203.88 400,203.65 403,202.9 406,202.53 408.25,201.85 409,203.13 407.5,205 405.63,206.88 403,208 400,208.38 397.38,207.63 395.88,206.35ZM391.38,207.63 393.25,206.88 395.5,206.65 396.25,207.85 394.75,209.13 392.5,209.5 391.38,208.75Z" fill="#f4a582" fill-rule="evenodd" stroke="#3a3a3a" stroke-width="0.32" stroke-linejoin="round"/>
<path d="M392.5,209.65 394.75,209.28 396.4,208 397.75,207.85 400,208.53 401.88,209.35 402.25,210.63 400,210.85 397.38,210.4 395.88,211 397,212.5 398.88,214.38 401.13,216.25 402.63,217.38 401.5,217.75 399.25,216.4 397,214.75 395.13,212.88 394,211.15 392.5,211Z" fill="#d6604d" fill-rule="evenodd" stroke="#3a3a3a" stroke-width="0.32" stroke-linejoin="round"/>
<path d="M402.4,209.13 404.13,208.38 406,209.88 407.5,211.75 409,213.25 410.5,214.75 410.13,217.38 408.63,217.9 407.13,217 406,215.5 404.13,213.63 403,211.75 402.4,210.25Z" fill="#92c5de" fill-rule="evenodd" stroke="#3a3a3a" stroke-width="0.32" stroke-linejoin="round"/>
<path d="M405.85,207.1 407.88,205 409.38,203.35 412,202.9 415.75,203.35 417.1,202.83 417.85,203.73 419.35,205.23 420.48,207.48 421.23,209.73 422.35,210.48 421.98,213.48 417.48,213.63 413.73,213.85 410.5,213.4 409,212.5 407.5,211 406.15,209.5Z" fill="#d1e5f0" fill-rule="evenodd" stroke="#3a3a3a" stroke-width="0.32" stroke-linejoin="round"/>
<path d="M410,194.63 411.13,193.5 414.5,193.88 419,193.88 423.5,194.25 425,192.75 428,192.38 430.25,193.13 431.75,195.38 434.75,196.88 438.13,198 441.5,198.75 443.75,200.25 443.6,203.25 440.75,204.75 437.75,205.88 435.88,207 435.13,207.9 438.5,210.15 437.75,211.28 434.75,212.4 432.5,212.03 431.75,209.4 430.25,208.28 428,207.15 426.13,207.53 425,210.15 422.38,210.53 421.25,209.78 420.5,207.53 419.38,205.28 417.88,203.78 417.13,202.65 413.75,203.25 411.13,202.88 408.5,202.13 408.13,200.25 409.25,198.38 410.38,196.5Z" fill="#92c5de" fill-rule="evenodd" stroke="#3a3a3a" stroke-width="0.32" stroke-linejoin="round"/>
<path d="M417.13,202.63 419.38,202.25 421.63,204.13 423.5,206.38 424.63,207.88 422.38,208.25 421.25,209.75 420.5,207.5 419.38,205.25 417.88,203.75ZM403.75,218.13 405.25,217.75 406.38,219.63 406.15,221.5 407.13,223.38 406.75,224.88 405.25,224.13 404.13,221.88 403.6,220ZM446.75,215 449.38,215.38 452.75,216.5 456.5,217.63 459.88,219.13 461.38,221 458.75,221 455.75,221.38 453.5,220.85 451.25,220.25 449.75,218 448.25,216.5Z" fill="#2166ac" fill-rule="evenodd" stroke="#3a3a3a" stroke-width="0.32" stroke-linejoin="round"/>
<path d="M410.5,214.75 412,213.85 413.73,213.85 417.48,213.63 421.23,213.48 421.98,214.98 421.23,217.6 419.73,219.1 418.6,219.85 418.08,221.5 415,220.6 412.75,220 410.88,218.88 410.35,217ZM407.13,223.38 408.25,221.88 410.88,221.13 412.75,220 415,220.6 418.08,221.5 418,222.48 415.75,222.1 413.88,222.1 413.73,223.23 412.23,224.73 411.85,226.98 414.1,228.48 415,229.6 413.5,230.35 412.98,231.48 412.38,233.5 410.88,232.75 409.75,230.88 408.25,228.63 406.75,226.75 406,225.1ZM414.13,236 416.75,236.15 419.75,236.75 419.38,237.5 416.38,237.35 414.13,236.75Z" fill="#f4a582" fill-rule="evenodd" stroke="#3a3a3a" stroke-width="0.32" stroke-linejoin="round"/>
<path d="M418.63,219.88 420.88,219.13 422.75,219.65 423.5,221 422,222.13 419.75,222.5 418.4,223.4 418.1,221.75ZM419,225.13 420.13,223.63 423.13,222.5 426.13,221.38 429.88,220.63 433.25,219.35 436.25,219.13 439.63,220.1 442.63,221.38 446,221.75 449,221.38 450.88,220.4 453.5,221 455.75,221.38 457.63,222.5 458,225.13 458.75,227.75 458.38,229.63 459.88,231.5 457.25,231.5 454.25,231.5 451.25,231.88 448.25,232.25 445.25,232.63 443,233 441.88,234.88 440.75,233 438.5,232.63 435.88,233.75 433.25,234.13 430.63,233.38 428,234.13 425.38,233 422.75,231.88 421.25,230 420.13,227.75Z" fill="#4393c3" fill-rule="evenodd" stroke="#3a3a3a" stroke-width="0.32" stroke-linejoin="round"/>
<path d="M433.25,237.13 435.13,236 437.75,235.63 437,237.13 435.13,238.25 433.63,237.88Z" fill="#fddbc7" fill-rule="evenodd" stroke="#3a3a3a" stroke-width="0.32" stroke-linejoin="round"/>
<path d="M456.13,221.75 458.75,221.38 460.25,222.5 461.75,224.75 462.88,227 461.75,226.63 460.25,225.13 458.38,224.38 456.88,222.88Z" fill="#d1e5f0" fill-rule="evenodd" stroke="#3a3a3a" stroke-width="0.32" stroke-linejoin="round"/>
<path d="M525,239 533,236 537,240 536,244 540,248 543,251 542.4,254 549,257.6 556,260 561.6,260.6 562.4,264 565,271 567,272 564,274 560,277 557,282 552,286 548,290 547,298 545.2,306.4 542.2,309 539.6,304.4 537.2,300 534.4,294 532,288 530.4,282 529.2,276 528,273.6 524,275 520,271 517.6,267 523,265 520,260 520,257 525,255 528,250 529,245ZM570,258 573,254 578,252.4 581,255.6 578,260 576.4,265 574.4,269.6 572.4,271 571,267 571.6,263.6 568,262.4 562.4,261 561.6,260.6 562.4,259.4 567,259.4Z" fill="#4393c3" fill-rule="evenodd" stroke="#3a3a3a" stroke-width="0.32" stroke-linejoin="round"/>
<path d="M543,251 548,251.6 555,255 561.6,257 561.6,260.6 556,260 549,257.6 542.4,254Z" fill="#92c5de" fill-rule="evenodd" stroke="#3a3a3a" stroke-width="0.32" stroke-linejoin="round"/>
<path d="M562.4,256.4 568,255.6 570,258 567,259.4 562.4,259.4Z" fill="#d1e5f0" fill-rule="evenodd" stroke="#3a3a3a" stroke-width="0.32" stroke-linejoin="round"/>
<path d="M562.4,261 568,262.4 571.6,263.6 571,267 572.4,271.6 570,270 568,272 565,271 562.4,264Z" fill="#2166ac" fill-rule="evenodd" stroke="#3a3a3a" stroke-width="0.32" stroke-linejoin="round"/>
<path d="M579.12,255.29 582.65,255.29 585.59,258.82 585,262.35 586.76,265.88 589.12,268.82 592.65,272.94 590.29,275.88 587.35,277.65 586.18,281.76 587.35,286.47 589.12,291.18 590.88,295.88 591.47,300 593,302 589.12,299.41 587.35,293.53 585.59,288.82 584.65,285.29 582.65,287.88 579.71,287.06 578.53,281.76 576.18,277.06 573.24,273.53 573.82,267.65 576.18,264.12 577.35,259.41Z" fill="#2166ac" fill-rule="evenodd" stroke="#3a3a3a" stroke-width="0.32" stroke-linejoin="round"/>
<path d="M587.35,277.65 590.29,275.88 592.65,274.71 594.41,277.06 595,280.59 597.35,282.35 601.47,281.76 604.41,285.29 605.82,290 603.24,291.76 599.71,292.35 599.12,296.47 597.35,295.88 595,293.53 593.24,295.88 593.24,300 594,306 598,312 600,314 598,315 594,312 591,308 591.6,302 591.47,300 590.88,295.88 589.12,291.18 587.35,286.47 586.18,281.76Z" fill="#2166ac" fill-rule="evenodd" stroke="#3a3a3a" stroke-width="0.32" stroke-linejoin="round"/>
</g>
<g id="legend">
<rect x="127.5" y="537.3" width="48" height="11" fill="url(#hatch)" stroke="#c4c4c4" stroke-width="0.8"/>
<line x1="151.5" x2="151.5" y1="533.5" y2="537.3" stroke="#8a8a8a" stroke-width="0.6"/>
<text x="151.5" y="529.8" text-anchor="middle" class="lg" textLength="45.7" lengthAdjust="spacingAndGlyphs">No data</text>
<rect x="195.00" y="537.3" width="58.6" height="11" fill="#2166ac"/>
<rect x="253.60" y="537.3" width="58.6" height="11" fill="#4393c3"/>
<rect x="312.20" y="537.3" width="58.6" height="11" fill="#92c5de"/>
<rect x="370.80" y="537.3" width="58.6" height="11" fill="#d1e5f0"/>
<rect x="429.40" y="537.3" width="58.6" height="11" fill="#fddbc7"/>
<rect x="488.00" y="537.3" width="58.6" height="11" fill="#f4a582"/>
<rect x="546.60" y="537.3" width="58.6" height="11" fill="#d6604d"/>
<rect x="605.20" y="537.3" width="58.6" height="11" fill="#b2182b"/>
<path d="M663.80,537.3 L717.40,537.3 L722.40,542.8 L717.40,548.3 L663.80,548.3Z" fill="#67001f"/>
<line x1="195.40" x2="195.40" y1="519.0" y2="548.3" stroke="#9a9a9a" stroke-width="0.7"/>
<text x="195.00" y="515.7" text-anchor="middle" class="lg">-100%</text>
<line x1="254.00" x2="254.00" y1="533.1" y2="548.3" stroke="#9a9a9a" stroke-width="0.7"/>
<text x="253.60" y="529.8" text-anchor="middle" class="lg">-75%</text>
<line x1="312.60" x2="312.60" y1="519.0" y2="548.3" stroke="#9a9a9a" stroke-width="0.7"/>
<text x="312.20" y="515.7" text-anchor="middle" class="lg">-50%</text>
<line x1="371.20" x2="371.20" y1="533.1" y2="548.3" stroke="#9a9a9a" stroke-width="0.7"/>
<text x="370.80" y="529.8" text-anchor="middle" class="lg">-25%</text>
<line x1="429.80" x2="429.80" y1="519.0" y2="548.3" stroke="#9a9a9a" stroke-width="0.7"/>
<text x="429.40" y="515.7" text-anchor="middle" class="lg">0%</text>
<line x1="488.40" x2="488.40" y1="533.1" y2="548.3" stroke="#9a9a9a" stroke-width="0.7"/>
<text x="488.00" y="529.8" text-anchor="middle" class="lg">25%</text>
<line x1="547.00" x2="547.00" y1="519.0" y2="548.3" stroke="#9a9a9a" stroke-width="0.7"/>
<text x="546.60" y="515.7" text-anchor="middle" class="lg">50%</text>
<line x1="605.60" x2="605.60" y1="533.1" y2="548.3" stroke="#9a9a9a" stroke-width="0.7"/>
<text x="605.20" y="529.8" text-anchor="middle" class="lg">75%</text>
<line x1="664.20" x2="664.20" y1="519.0" y2="548.3" stroke="#9a9a9a" stroke-width="0.7"/>
<text x="663.80" y="515.7" text-anchor="middle" class="lg">100%</text>
</g>
<text x="16.6" y="581.2" class="ft" font-weight="bold" textLength="71.6" lengthAdjust="spacingAndGlyphs">Data source:</text>
<text x="92.3" y="581.2" class="ft" textLength="192.9" lengthAdjust="spacingAndGlyphs">World Health Organization (2025)</text>
<text x="596.5" y="581.2" class="ft" textLength="235.1" lengthAdjust="spacingAndGlyphs">OurWorldinData.org/coronavirus | CC BY</text>
</svg>
</div>
</body></html>
